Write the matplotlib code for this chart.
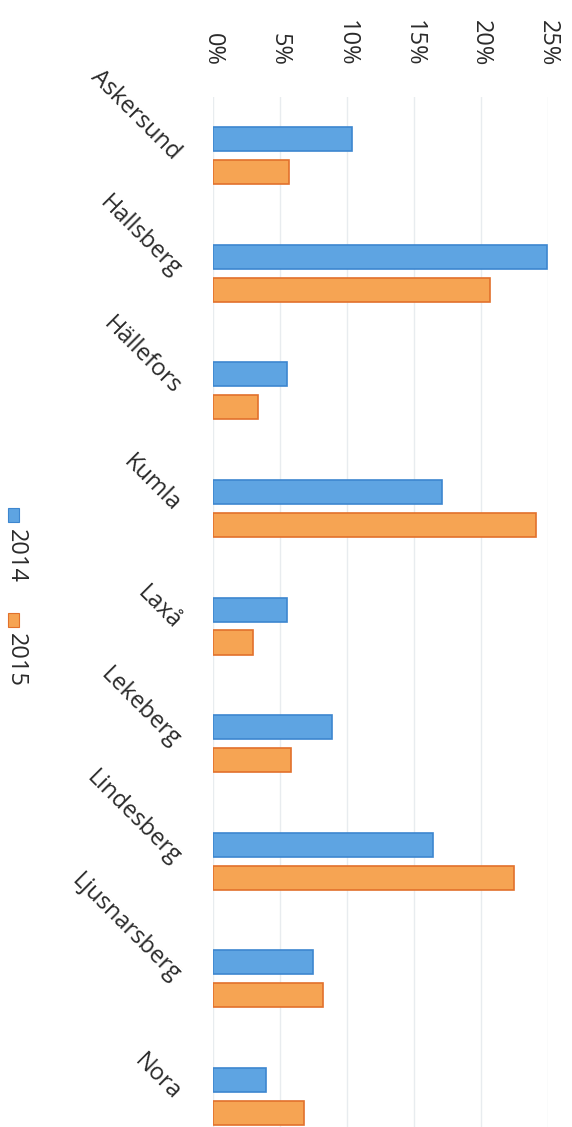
import matplotlib.pyplot as plt
import numpy as np
from matplotlib.patches import Rectangle
from matplotlib.ticker import FuncFormatter

plt.rcParams['font.family'] = ['Open Sans', 'DejaVu Sans']

kommuner = ["Askersund", "Hallsberg", "Hällefors", "Kumla", "Laxå",
            "Lekeberg", "Lindesberg", "Ljusnarsberg", "Nora"]
andel_2014 = [10.4, 24.9, 5.5, 17.1, 5.5, 8.9, 16.4, 7.5, 4.0]
andel_2015 = [5.7, 20.7, 3.4, 24.1, 3.0, 5.8, 22.5, 8.2, 6.8]
serie_namn = ["2014", "2015"]
x_ticks = [0, 5, 10, 15, 20, 25]

blue = '#5ea4e2'
blue_edge = '#3d86cf'
orange = '#f6a453'
orange_edge = '#e2712c'

fig = plt.figure(figsize=(5.72, 11.27), dpi=100)
ax = fig.add_axes([0.372, 0.0, 0.586, 0.914])

pos = np.arange(len(kommuner))
h = 0.205
ax.barh(pos - 0.14, andel_2014, height=h, color=blue, edgecolor=blue_edge, linewidth=1.2, zorder=3)
ax.barh(pos + 0.14, andel_2015, height=h, color=orange, edgecolor=orange_edge, linewidth=1.2, zorder=3)

ax.set_xlim(0, 25)
ax.set_ylim(8.26, -0.5)
ax.set_xticks(x_ticks)
ax.xaxis.set_major_formatter(FuncFormatter(lambda v, p: f"{v:.0f}%"))
ax.xaxis.tick_top()
ax.tick_params(axis='x', length=0, pad=22, labelsize=17, labelcolor='#2a2a2a')
for lab in ax.get_xticklabels():
    lab.set_rotation(-90)

ax.set_yticks(pos)
ax.set_yticklabels(kommuner, rotation=-45, ha='right', va='center',
                   rotation_mode='anchor', fontsize=17, color='#2a2a2a')
ax.tick_params(axis='y', length=0, pad=26)

ax.grid(axis='x', color='#e8ecef', linewidth=1.0, zorder=0)
for s in ax.spines.values():
    s.set_visible(False)

# rotated legend on the left side
for col, edge, name, y0 in [(blue, blue_edge, serie_namn[0], 0.537),
                            (orange, orange_edge, serie_namn[1], 0.444)]:
    fig.patches.append(Rectangle((0.014, y0), 0.02, 0.012, transform=fig.transFigure,
                                 facecolor=col, edgecolor=edge, linewidth=0.8))
    fig.text(0.027, y0 - 0.006, name, rotation=-90, ha='center', va='top',
             fontsize=17, color='#2a2a2a')

fig.savefig('out.png', dpi=100)
